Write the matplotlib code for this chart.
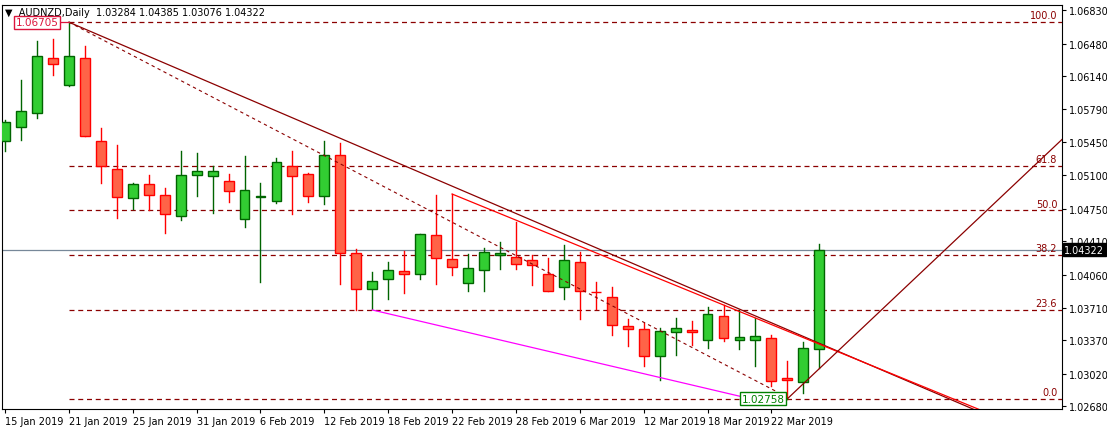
import matplotlib
matplotlib.use("Agg")
import matplotlib.pyplot as plt

dates = ["15 Jan 2019", "21 Jan 2019", "25 Jan 2019", "31 Jan 2019", "6 Feb 2019", "12 Feb 2019",
         "18 Feb 2019", "22 Feb 2019", "28 Feb 2019", "6 Mar 2019", "12 Mar 2019", "18 Mar 2019", "22 Mar 2019"]
opens = [1.05460, 1.05607, 1.05753, 1.06330, 1.06047, 1.06330, 1.05460, 1.05166, 1.04862, 1.05009,
         1.04894, 1.04674, 1.05104, 1.05093, 1.05041, 1.04642, 1.04873, 1.04831, 1.05198, 1.05114,
         1.04884, 1.05313, 1.04286, 1.03909, 1.04014, 1.04098, 1.04066, 1.04475, 1.04223, 1.03972,
         1.04108, 1.04265, 1.04244, 1.04213, 1.04066, 1.03930, 1.04192, 1.03882, 1.03825, 1.03521,
         1.03490, 1.03207, 1.03458, 1.03479, 1.03375, 1.03626, 1.03375, 1.03375, 1.03395, 1.02976,
         1.02934, 1.03284]
highs = [1.05680, 1.06099, 1.06508, 1.06529, 1.06705, 1.06455, 1.05596, 1.05418, 1.05020, 1.05104,
         1.04967, 1.05355, 1.05334, 1.05198, 1.05114, 1.05303, 1.05020, 1.05282, 1.05355, 1.05125,
         1.05460, 1.05439, 1.04328, 1.04087, 1.04192, 1.04307, 1.04485, 1.04894, 1.04904, 1.04276,
         1.04339, 1.04402, 1.04611, 1.04265, 1.04234, 1.04370, 1.04297, 1.03982, 1.03930, 1.03594,
         1.03552, 1.03500, 1.03605, 1.03573, 1.03720, 1.03741, 1.03689, 1.03605, 1.03427, 1.03154,
         1.03354, 1.04385]
lows = [1.05355, 1.05470, 1.05701, 1.06152, 1.06036, 1.05512, 1.05020, 1.04653, 1.04747, 1.04737,
        1.04496, 1.04632, 1.04884, 1.04705, 1.04821, 1.04559, 1.03982, 1.04810, 1.04695, 1.04821,
        1.04800, 1.03961, 1.03689, 1.03700, 1.03804, 1.03867, 1.04014, 1.03961, 1.04056, 1.03888,
        1.03888, 1.04118, 1.04118, 1.03951, 1.03888, 1.03804, 1.03594, 1.03700, 1.03427, 1.03312,
        1.03102, 1.02955, 1.03217, 1.03322, 1.03291, 1.03364, 1.03280, 1.03097, 1.02892, 1.02758,
        1.02819, 1.03076]
closes = [1.05659, 1.05774, 1.06351, 1.06267, 1.06351, 1.05512, 1.05198, 1.04873, 1.05009, 1.04894,
          1.04695, 1.05104, 1.05145, 1.05145, 1.04936, 1.04946, 1.04880, 1.05240, 1.05093, 1.04884,
          1.05313, 1.04286, 1.03909, 1.03993, 1.04108, 1.04066, 1.04485, 1.04234, 1.04139, 1.04129,
          1.04297, 1.04286, 1.04171, 1.04160, 1.03888, 1.04213, 1.03888, 1.03872, 1.03532, 1.03490,
          1.03207, 1.03469, 1.03500, 1.03458, 1.03647, 1.03395, 1.03406, 1.03416, 1.02945, 1.02955,
          1.03291, 1.04322]
yticks = [1.06830, 1.06480, 1.06140, 1.05790, 1.05450, 1.05100, 1.04750, 1.04410, 1.04060,
          1.03710, 1.03370, 1.03020, 1.02680]
fib_high, fib_low = 1.06705, 1.02758
fib_pcts = [100.0, 61.8, 50.0, 38.2, 23.6, 0.0]
last_price = 1.04322

W, H = 1107, 431
fig = plt.figure(figsize=(W/100, H/100), dpi=100)
ax = fig.add_axes([2/W, 1-410/H, 1060/W, 404/H])
ax.set_xlim(-0.19, 66.2)
ax.set_ylim(1.02651, 1.06885)

for i, (o, h, l, c) in enumerate(zip(opens, highs, lows, closes)):
    up = c >= o
    fc = "#32CD32" if up else "#FF6347"
    ec = "#006400" if up else "#FF0000"
    ax.plot([i, i], [l, h], color=ec, lw=1, zorder=3)
    bot, top = min(o, c), max(o, c)
    if top - bot < 0.00004:
        ax.plot([i-0.33, i+0.33], [o, o], color=ec, lw=1.2, zorder=4)
    else:
        ax.add_patch(plt.Rectangle((i-0.31, bot), 0.62, top-bot, facecolor=fc, edgecolor=ec, lw=1, zorder=4))

dk = "#8B0000"
for p in fib_pcts:
    lv = fib_low + (fib_high - fib_low) * p / 100
    ax.plot([4, 66.2], [lv, lv], color=dk, lw=0.9, ls=(0, (4, 3)), zorder=2)
    ax.text(65.9, lv + 0.0002, f"{p:.1f}", color=dk, fontsize=7, ha="right", va="bottom")

ax.axhline(last_price, color="#778899", lw=0.9, zorder=1)
ax.plot([4, 62], [fib_high, fib_high - 0.000716*58], color=dk, lw=0.9, zorder=5)
ax.plot([4, 48.75], [fib_high, 1.02796], color=dk, lw=0.8, ls=(0, (3, 3)), zorder=5)
ax.plot([28, 62], [1.04904, 1.04904 - 0.000684*34], color="#FF0000", lw=0.9, zorder=5)
ax.plot([23, 48.1], [1.03689, 1.02703], color="#FF00FF", lw=0.9, zorder=5)
ax.plot([49, 66.2], [fib_low, 1.05476], color=dk, lw=0.9, zorder=5)
ax.plot([48.2, 49], [fib_low, fib_low], color="#008000", lw=0.9, zorder=5)
ax.plot([3.4, 4], [fib_high, fib_high], color="#DC143C", lw=0.9, zorder=5)

ax.text(2.0, fib_high, "1.06705", color="#DC143C", fontsize=7.5, ha="center", va="center",
        bbox=dict(boxstyle="square,pad=0.15", fc="white", ec="#DC143C", lw=1), zorder=6)
ax.text(47.5, fib_low, "1.02758", color="#008000", fontsize=7.5, ha="center", va="center",
        bbox=dict(boxstyle="square,pad=0.15", fc="white", ec="#008000", lw=1), zorder=6)

ax.yaxis.tick_right()
ax.set_yticks(yticks)
ax.set_yticklabels([f"{v:.5f}" for v in yticks], fontsize=7)
ax.tick_params(axis="y", direction="out", length=3, pad=2)
ax.set_xticks(range(0, 52, 4))
ax.set_xticklabels(dates, fontsize=7, ha="left")
ax.tick_params(axis="x", direction="out", length=3, pad=2)
ax.text(1.002, last_price, f"{last_price:.5f}", transform=ax.get_yaxis_transform(), color="white",
        fontsize=7, ha="left", va="center", bbox=dict(boxstyle="square,pad=0.15", fc="black", ec="black"), zorder=10, clip_on=False)
ax.text(0.003, 0.995, "\u25bc  AUDNZD,Daily  1.03284 1.04385 1.03076 1.04322", transform=ax.transAxes,
        fontsize=7, va="top", ha="left")
for s in ax.spines.values():
    s.set_color("black")
fig.savefig("out.png", dpi=100)
